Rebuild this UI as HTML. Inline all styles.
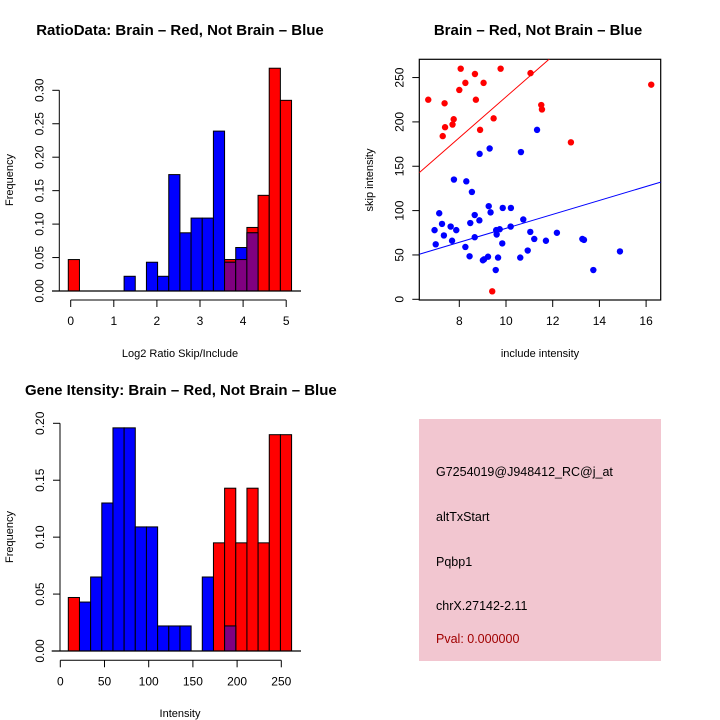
<!DOCTYPE html>
<html><head><meta charset="utf-8"><style>
html,body{margin:0;padding:0;background:#fff;}
svg{display:block;font-family:"Liberation Sans",sans-serif;}
</style></head><body>
<svg id="c" width="720" height="720" viewBox="0 0 720 720" xmlns="http://www.w3.org/2000/svg">
<g id="p1"></g>
<g id="p2"></g>
<g id="p3"></g>
<g id="p4">
<rect x="419" y="419" width="242" height="242" fill="#f2c6d0"/>
<text x="436" y="476" font-size="12.5">G7254019@J948412_RC@j_at</text>
<text x="436" y="521" font-size="12.5">altTxStart</text>
<text x="436" y="566" font-size="12.5">Pqbp1</text>
<text x="436" y="610" font-size="12.5">chrX.27142-2.11</text>
<text x="436" y="643" font-size="12.5" fill="#a00000">Pval: 0.000000</text>
</g>
</svg>
<script>
// ---- Chart 1 data
const ratioRed = [0.047,0,0,0,0,0,0,0,0,0,0,0,0,0,0.047,0.047,0.095,0.143,0.333,0.285];
const ratioBlue = [0,0,0,0,0,0.022,0,0.043,0.022,0.174,0.087,0.109,0.109,0.239,0.043,0.065,0.087,0,0,0];
const ratioBinStart = -0.056, ratioBinWidth = 0.259;
const ratioXTicks = [0,1,2,3,4,5];
const ratioYTicks = [0,0.05,0.10,0.15,0.20,0.25,0.30];
// ---- Chart 2 data
const redX = [6.67,7.37,7.29,7.39,7.71,7.76,8.0,8.06,8.26,8.67,8.71,8.89,9.04,9.47,9.41,9.77,11.05,11.51,11.54,12.78,16.22];
const redY = [225,221,184,194,197,203,236,260,244,254,225,191,244,204,9,260,255,219,214,177,242];
const blueX = [6.94,6.99,7.14,7.26,7.34,7.63,7.69,7.77,7.87,8.26,8.30,8.44,8.47,8.54,8.66,8.66,8.86,8.87,9.01,9.06,9.23,9.26,9.30,9.34,9.56,9.58,9.60,9.66,9.73,9.84,9.86,10.20,10.21,10.61,10.64,10.74,10.93,11.04,11.21,11.33,11.71,12.18,13.27,13.34,13.74,14.88];
const blueY = [78,62,97,85,72,82,66,135,78,59,133,48.5,86,121,95,70,89,164,44,45,48,105,170,98,33,78,73,47,79,63,103,82,103,47,166,90,55,76,68,191,66,75,68,67,33,54];
const redFit = [-1.8, 23.0];
const blueFit = [1.4, 7.86];
const scatXTicks = [8,10,12,14,16];
const scatYTicks = [0,50,100,150,200,250];
// ---- Chart 3 data
const intRed = [0.047,0,0,0,0,0,0,0,0,0,0,0,0,0.095,0.143,0.095,0.143,0.095,0.19,0.19];
const intBlue = [0,0.043,0.065,0.130,0.196,0.196,0.109,0.109,0.022,0.022,0.022,0,0.065,0,0.022,0,0,0,0,0];
const intBinStart = 9.05, intBinWidth = 12.63;
const intXTicks = [0,50,100,150,200,250];
const intYTicks = [0,0.05,0.10,0.15,0.20];

const NS = "http://www.w3.org/2000/svg";
function mk(parent, tag, attrs, txt){
  const e = document.createElementNS(NS, tag);
  for (const k in attrs) e.setAttribute(k, attrs[k]);
  if (txt !== undefined) e.textContent = txt;
  parent.appendChild(e);
  return e;
}
function title(g, x, y, t, anchor){
  const e = mk(g,'text',{x:x,y:y,'font-size':15,'font-weight':'bold','text-anchor':anchor||'middle'},t);
  
  
}
function yTitle(g, x, y, t){
  const e = mk(g,'text',{x:0,y:0,'font-size':11,'text-anchor':'middle',transform:`translate(${x},${y}) rotate(-90)`},t);
  
  
}
function xTitle(g, x, y, t){
  const e = mk(g,'text',{x:x,y:y,'font-size':11,'text-anchor':'middle'},t);
  
  
}
function xAxis(g, ticks, sx, y, labelFmt){
  const l = mk(g,'line',{x1:sx(ticks[0]),x2:sx(ticks[ticks.length-1]),y1:y,y2:y,stroke:'#000'});
  
  
  ticks.forEach(t=>{
    mk(g,'line',{x1:sx(t),x2:sx(t),y1:y,y2:y+7,stroke:'#000'});
    const e = mk(g,'text',{x:sx(t),y:y+25,'font-size':12,'text-anchor':'middle'},labelFmt(t));
    
    
  });
}
function yAxis(g, ticks, sy, x, labelFmt){
  const l = mk(g,'line',{x1:x,x2:x,y1:sy(ticks[0]),y2:sy(ticks[ticks.length-1]),stroke:'#000'});
  
  
  ticks.forEach(t=>{
    mk(g,'line',{x1:x-7,x2:x,y1:sy(t),y2:sy(t),stroke:'#000'});
    const e = mk(g,'text',{x:0,y:0,'font-size':12,'text-anchor':'middle',transform:`translate(${x-16},${sy(t)}) rotate(-90)`},labelFmt(t));
    
    
  });
}
function hist(g, red, blue, start, w, sx, sy, base){
  for (let i=0;i<red.length;i++){
    const x0 = sx(start+i*w), x1 = sx(start+(i+1)*w);
    if (red[i]>0){
      const r = mk(g,'rect',{x:x0,y:sy(red[i]),width:x1-x0,height:sy(0)-sy(red[i]),fill:'#ff0000',stroke:'#000','stroke-width':1});
      
      
    }
  }
  for (let i=0;i<blue.length;i++){
    const x0 = sx(start+i*w), x1 = sx(start+(i+1)*w);
    if (blue[i]>0){
      const r = mk(g,'rect',{x:x0,y:sy(blue[i]),width:x1-x0,height:sy(0)-sy(blue[i]),fill:'#0000ff',stroke:'#000','stroke-width':1});
      
      
      if (red[i]>0){
        const m = Math.min(red[i],blue[i]);
        const p = mk(g,'rect',{x:x0,y:sy(m),width:x1-x0,height:sy(0)-sy(m),fill:'#800080',stroke:'#000','stroke-width':1});
        
        
      }
    }
  }
  mk(g,'line',{x1:base[0],x2:base[1],y1:sy(0),y2:sy(0),stroke:'#000','stroke-width':1.3});
}

// Chart 1
(function(){
  const g = document.getElementById('p1');
  const sx = v => 70.7 + v*43.1;
  const sy = v => 291 - v*(200.7/0.3);
  title(g,180,35,'RatioData: Brain – Red, Not Brain – Blue');
  hist(g, ratioRed, ratioBlue, ratioBinStart, ratioBinWidth, sx, sy, [52,301]);
  xAxis(g, ratioXTicks, sx, 300, t=>String(t));
  yAxis(g, ratioYTicks, sy, 59.3, t=>t.toFixed(2));
  xTitle(g,180,357,'Log2 Ratio Skip/Include');
  yTitle(g,13,180,'Frequency');
})();

// Chart 2
(function(){
  const g = document.getElementById('p2');
  const sx = v => 459.3 + (v-8)*23.35;
  const sy = v => 299.3 - v*0.887;
  const L = 419.3, R = 660.7, T = 59.3, B = 300;
  title(g,538,35,'Brain – Red, Not Brain – Blue');
  const box = mk(g,'rect',{x:L,y:T,width:R-L,height:B-T,fill:'none',stroke:'#000','stroke-width':1.2});
  
  
  const defs = mk(g,'defs',{});
  const cp = mk(defs,'clipPath',{id:'clip2'});
  mk(cp,'rect',{x:L,y:T,width:R-L,height:B-T});
  const vL = (L-459.3)/23.35+8, vR = (R-459.3)/23.35+8;
  [[redFit,'#ff0000','red-fit-line'],[blueFit,'#0000ff','blue-fit-line']].forEach(([f,c,n])=>{
    const l = mk(g,'line',{x1:sx(vL),y1:sy(f[0]+f[1]*vL),x2:sx(vR),y2:sy(f[0]+f[1]*vR),stroke:c,'clip-path':'url(#clip2)'});
    
    
  });
  redX.forEach((x,i)=>{
    const c = mk(g,'circle',{cx:sx(x),cy:sy(redY[i]),r:3.2,fill:'#ff0000'});
    
    
  });
  blueX.forEach((x,i)=>{
    const c = mk(g,'circle',{cx:sx(x),cy:sy(blueY[i]),r:3.2,fill:'#0000ff'});
    
    
  });
  scatXTicks.forEach(t=>{
    mk(g,'line',{x1:sx(t),x2:sx(t),y1:B,y2:B+7,stroke:'#000'});
    const e = mk(g,'text',{x:sx(t),y:B+25,'font-size':12,'text-anchor':'middle'},String(t));
    
    
  });
  scatYTicks.forEach(t=>{
    mk(g,'line',{x1:L-7,x2:L,y1:sy(t),y2:sy(t),stroke:'#000'});
    const e = mk(g,'text',{x:0,y:0,'font-size':12,'text-anchor':'middle',transform:`translate(${L-16},${sy(t)}) rotate(-90)`},String(t));
    
    
  });
  xTitle(g,540,357,'include intensity');
  yTitle(g,373,180,'skip intensity');
})();

// Chart 3
(function(){
  const g = document.getElementById('p3');
  const sx = v => 60.3 + v*0.884;
  const sy = v => 651 - v*(227.7/0.2);
  title(g,25,395,'Gene Itensity: Brain – Red, Not Brain – Blue','start');
  hist(g, intRed, intBlue, intBinStart, intBinWidth, sx, sy, [51.7,301]);
  xAxis(g, intXTicks, sx, 660.3, t=>String(t));
  yAxis(g, intYTicks, sy, 60, t=>t.toFixed(2));
  xTitle(g,180,717,'Intensity');
  yTitle(g,13,537,'Frequency');
})();
</script>
</body></html>
